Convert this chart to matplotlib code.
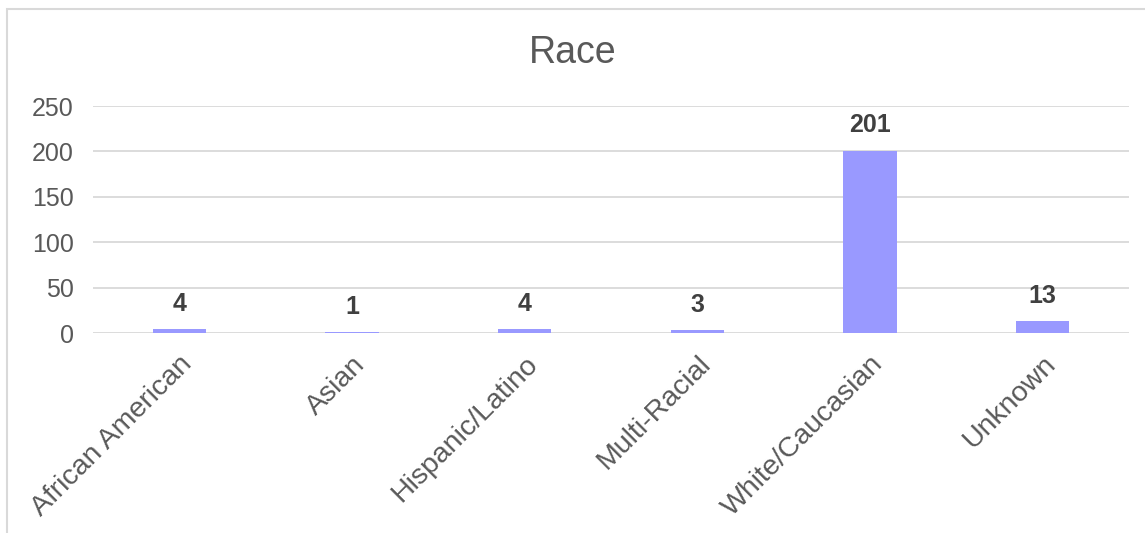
import numpy as np
from matplotlib import pyplot as plt
from matplotlib.patches import Rectangle

categories = ["African American", "Asian", "Hispanic/Latino", "Multi-Racial", "White/Caucasian", "Unknown"]
counts = [4, 1, 4, 3, 201, 13]
y_ticks = [0, 50, 100, 150, 200, 250]

plt.rcParams['font.family'] = ['Liberation Sans', 'DejaVu Sans']

fig = plt.figure(figsize=(11.45, 5.33), dpi=100)
ax = fig.add_axes([0.0812, 0.3752, 0.9048, 0.4259])

x = np.arange(len(categories))
ax.bar(x, counts, width=0.31, color='#9999FF', zorder=3)

for xi, v in zip(x, counts):
    ax.annotate(str(v), (xi, v), xytext=(0, 13), textcoords='offset points',
                ha='center', va='baseline', fontsize=18, fontweight='bold', color='#404040')

ax.set_xlim(-0.5, len(categories) - 0.5)
ax.set_ylim(0, 250)
ax.set_yticks(y_ticks)
ax.yaxis.grid(True, color='#d9d9d9', linewidth=1.3, zorder=0)
ax.set_axisbelow(True)
for s in ax.spines.values():
    s.set_visible(False)

ax.tick_params(axis='y', length=0, labelsize=18, labelcolor='#595959', pad=14)
ax.set_xticks(x)
ax.set_xticklabels(categories, rotation=45, ha='right', rotation_mode='anchor')
ax.tick_params(axis='x', length=0, labelsize=20.5, labelcolor='#595959', pad=13)

fig.text(0.5, 0.9, "Race", ha='center', va='center', fontsize=27, color='#595959')

# chart frame
fig.patches.append(Rectangle((7 / 1145, -0.5), 2, 1.5 - 9 / 533, transform=fig.transFigure,
                             fill=False, edgecolor='#d9d9d9', linewidth=1.5))

plt.savefig("out.png")
plt.close()
